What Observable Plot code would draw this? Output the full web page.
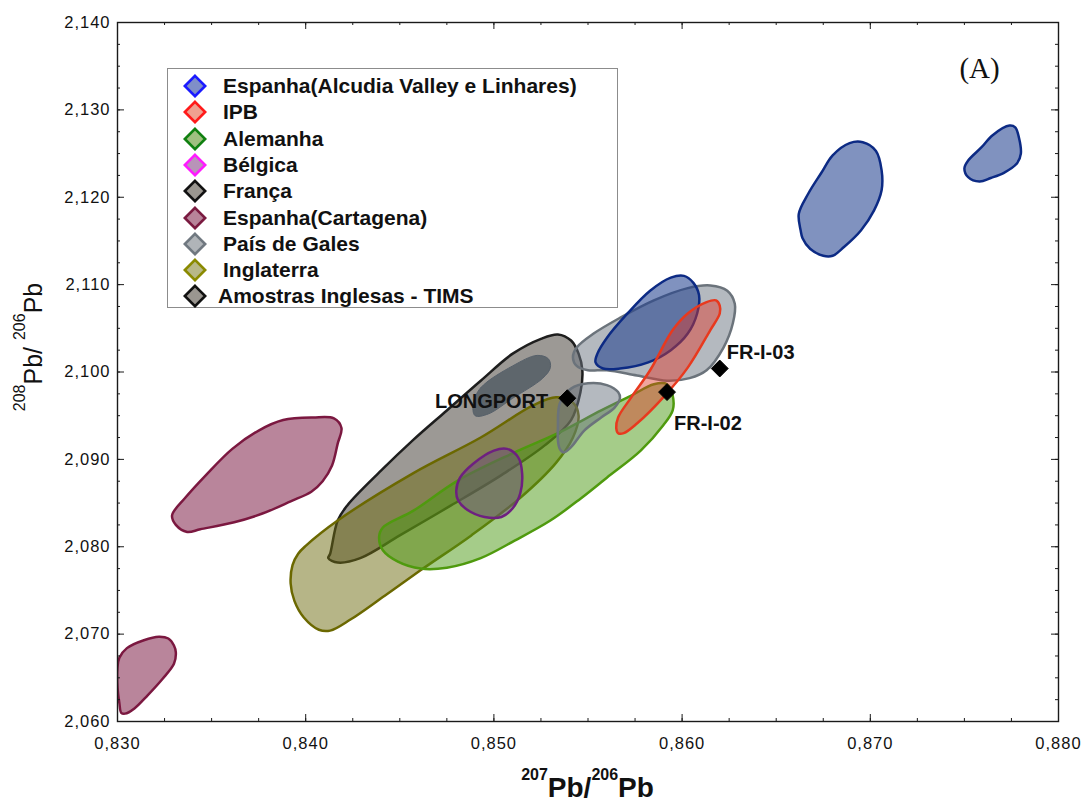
<!DOCTYPE html>
<html>
<head>
<meta charset="utf-8">
<script src="https://cdn.jsdelivr.net/npm/d3@7"></script>
<script src="https://cdn.jsdelivr.net/npm/@observablehq/plot@0.6"></script>
<style>
html,body{margin:0;padding:0;background:#fff;}
#wrap{position:relative;width:1089px;height:804px;overflow:hidden;font-family:"Liberation Sans",Arial,Helvetica,sans-serif;}
#wrap > svg{position:absolute;left:0;top:0;}
#legend{position:absolute;left:167px;top:68px;width:451px;height:240px;box-sizing:border-box;border:1px solid #8c8c8c;background:#fff;}
.lrow{position:absolute;left:0;width:440px;height:26px;}
.lrow svg{position:absolute;left:15px;top:1px;}
.lrow span{position:absolute;left:55px;top:0;font-weight:bold;font-size:21px;color:#111;line-height:26px;white-space:nowrap;}
g[aria-label$="tick label"] text{letter-spacing:1px;}
</style>
</head>
<body>
<div id="wrap"></div>
<script>
// ---------- data (207Pb/206Pb , 208Pb/206Pb) ----------
const xMajorTicks = [0.830, 0.840, 0.850, 0.860, 0.870, 0.880];
const yMajorTicks = [2.060, 2.070, 2.080, 2.090, 2.100, 2.110, 2.120, 2.130, 2.140];

const cartagenaLow = [[0.8300,2.0639],[0.8300,2.0662],[0.8301,2.0673],[0.8305,2.0684],[0.8314,2.0693],[0.8322,2.0697],[0.8327,2.0695],[0.8330,2.0687],[0.8331,2.0679],[0.8330,2.0666],[0.8324,2.0649],[0.8316,2.0630],[0.8309,2.0615],[0.8304,2.0609],[0.8302,2.0610],[0.8301,2.0621]];
const cartagenaHigh = [[0.8329,2.0836],[0.8331,2.0825],[0.8337,2.0817],[0.8344,2.0820],[0.8362,2.0828],[0.8377,2.0838],[0.8392,2.0852],[0.8403,2.0863],[0.8409,2.0875],[0.8414,2.0893],[0.8417,2.0918],[0.8419,2.0936],[0.8415,2.0947],[0.8404,2.0948],[0.8388,2.0945],[0.8375,2.0933],[0.8361,2.0912],[0.8347,2.0882],[0.8336,2.0856]];
const franca = [[0.8413,2.0792],[0.8417,2.0830],[0.8422,2.0847],[0.8440,2.0887],[0.8457,2.0922],[0.8475,2.0956],[0.8493,2.0990],[0.8510,2.1021],[0.8525,2.1038],[0.8534,2.1043],[0.8541,2.1036],[0.8545,2.1021],[0.8547,2.1002],[0.8546,2.0977],[0.8541,2.0945],[0.8527,2.0916],[0.8504,2.0882],[0.8477,2.0847],[0.8450,2.0813],[0.8429,2.0787],[0.8417,2.0782],[0.8412,2.0787]];
const galesInner = [[0.8489,2.0964],[0.8493,2.0982],[0.8510,2.1007],[0.8523,2.1019],[0.8529,2.1015],[0.8530,2.1005],[0.8526,2.0993],[0.8510,2.0970],[0.8497,2.0952],[0.8490,2.0950]];
const inglaterra = [[0.8396,2.0792],[0.8393,2.0779],[0.8392,2.0758],[0.8394,2.0738],[0.8399,2.0719],[0.8407,2.0705],[0.8413,2.0704],[0.8424,2.0717],[0.8442,2.0744],[0.8461,2.0773],[0.8488,2.0813],[0.8514,2.0856],[0.8533,2.0896],[0.8542,2.0925],[0.8545,2.0950],[0.8542,2.0965],[0.8533,2.0971],[0.8521,2.0962],[0.8493,2.0925],[0.8457,2.0884],[0.8417,2.0830],[0.8400,2.0801]];
const alemanha = [[0.8439,2.0811],[0.8441,2.0822],[0.8457,2.0841],[0.8481,2.0876],[0.8510,2.0907],[0.8534,2.0930],[0.8557,2.0956],[0.8573,2.0973],[0.8585,2.0986],[0.8592,2.0986],[0.8595,2.0973],[0.8595,2.0956],[0.8590,2.0939],[0.8578,2.0910],[0.8560,2.0879],[0.8546,2.0855],[0.8530,2.0830],[0.8511,2.0807],[0.8493,2.0787],[0.8475,2.0776],[0.8461,2.0775],[0.8449,2.0783],[0.8441,2.0796]];
const galesSmall = [[0.8534,2.0922],[0.8534,2.0936],[0.8535,2.0964],[0.8541,2.0981],[0.8550,2.0987],[0.8560,2.0985],[0.8566,2.0977],[0.8567,2.0970],[0.8564,2.0959],[0.8557,2.0948],[0.8548,2.0933],[0.8541,2.0914],[0.8537,2.0908],[0.8535,2.0912]];
const galesBig = [[0.8542,2.1017],[0.8544,2.1028],[0.8553,2.1044],[0.8567,2.1062],[0.8585,2.1082],[0.8603,2.1096],[0.8615,2.1099],[0.8624,2.1093],[0.8628,2.1078],[0.8627,2.1056],[0.8622,2.1028],[0.8613,2.1002],[0.8604,2.0993],[0.8592,2.0990],[0.8576,2.0996],[0.8560,2.1002],[0.8550,2.1002],[0.8544,2.1007]];
const belgica = [[0.8480,2.0864],[0.8482,2.0879],[0.8489,2.0895],[0.8500,2.0910],[0.8507,2.0912],[0.8513,2.0902],[0.8515,2.0884],[0.8514,2.0861],[0.8510,2.0844],[0.8504,2.0834],[0.8495,2.0834],[0.8486,2.0842],[0.8481,2.0853]];
const alcudiaMid = [[0.8554,2.1011],[0.8555,2.1021],[0.8560,2.1039],[0.8571,2.1067],[0.8583,2.1093],[0.8594,2.1108],[0.8601,2.1110],[0.8606,2.1102],[0.8609,2.1088],[0.8608,2.1067],[0.8603,2.1044],[0.8594,2.1025],[0.8582,2.1011],[0.8567,2.1004],[0.8558,2.1004]];
const alcudiaBig = [[0.8663,2.1162],[0.8662,2.1181],[0.8667,2.1204],[0.8674,2.1228],[0.8680,2.1248],[0.8689,2.1262],[0.8696,2.1263],[0.8703,2.1253],[0.8706,2.1231],[0.8706,2.1208],[0.8702,2.1185],[0.8695,2.1162],[0.8686,2.1143],[0.8680,2.1133],[0.8675,2.1133],[0.8668,2.1141],[0.8664,2.1153]];
const alcudiaSmall = [[0.8750,2.1233],[0.8752,2.1242],[0.8759,2.1257],[0.8765,2.1271],[0.8774,2.1282],[0.8777,2.1280],[0.8779,2.1268],[0.8780,2.1250],[0.8778,2.1239],[0.8771,2.1228],[0.8764,2.1222],[0.8758,2.1218],[0.8752,2.1223]];
const ipb = [[0.8565,2.0936],[0.8566,2.0948],[0.8573,2.0971],[0.8583,2.1002],[0.8595,2.1048],[0.8603,2.1067],[0.8613,2.1080],[0.8618,2.1082],[0.8620,2.1076],[0.8620,2.1067],[0.8615,2.1048],[0.8603,2.1005],[0.8590,2.0971],[0.8576,2.0941],[0.8569,2.0930],[0.8566,2.0930]];

const timsNames = ["LONGPORT", "FR-I-02", "FR-I-03"];
const timsX = [0.8539, 0.8592, 0.8620];
const timsY = [2.0970, 2.0977, 2.1004];

const legendNames = ["Espanha(Alcudia Valley e Linhares)", "IPB", "Alemanha", "Bélgica", "França",
  "Espanha(Cartagena)", "País de Gales", "Inglaterra", "Amostras Inglesas - TIMS"];

// ---------- styles ----------
const styleOf = {
  cartagena: {fill:"#8a3458", fillOpacity:0.6, stroke:"#7b1840"},
  franca:    {fill:"#4a463e", fillOpacity:0.55, stroke:"#1e1e1e"},
  galesIn:   {fill:"#47525d", fillOpacity:0.72, stroke:"#56606a", strokeWidth:1},
  inglaterra:{fill:"#6e6c10", fillOpacity:0.5, stroke:"#6b6800"},
  alemanha:  {fill:"#4c9a14", fillOpacity:0.5, stroke:"#4f9a0e"},
  gales:     {fill:"#6a7480", fillOpacity:0.5, stroke:"#6b737b"},
  belgica:   {fill:"#6a4a80", fillOpacity:0.45, stroke:"#6e2080"},
  alcudia:   {fill:"#20408f", fillOpacity:0.57, stroke:"#0c2a84"},
  ipb:       {fill:"#e03828", fillOpacity:0.45, stroke:"#e8391e"}
};
const regions = [
  ["cartagena", cartagenaLow], ["cartagena", cartagenaHigh],
  ["franca", franca], ["galesIn", galesInner], ["inglaterra", inglaterra],
  ["alemanha", alemanha], ["gales", galesSmall], ["gales", galesBig],
  ["belgica", belgica], ["alcudia", alcudiaMid], ["alcudia", alcudiaBig],
  ["alcudia", alcudiaSmall], ["ipb", ipb]
];
const legendStyles = [
  ["#1a1aff","#7f8fc8"],["#ff1a1a","#f0a090"],["#108010","#a0c080"],["#ff1aff","#b894b8"],
  ["#111111","#9a9690"],["#7a1a40","#b8849a"],["#707880","#b0b4b8"],["#8a8a00","#b8b888"],["#111111","#9a9690"]
];

const W = 1089, H = 804, ML = 117, MR = 31, MT = 22, MB = 83;
const innerW = W - ML - MR, innerH = H - MT - MB;
const fmt = d => d.toFixed(3).replace(".", ",");
const xMinor = d3.range(0.830, 0.88001, 0.0025);
const yMinor = d3.range(2.060, 2.14001, 0.0025);
const tims = timsNames.map((n, i) => ({name: n, x: timsX[i], y: timsY[i]}));
const tc = "#1a1a1a";

const regionMarks = regions.map(([key, pts]) => Plot.line(pts, {
  x: d => d[0], y: d => d[1], curve: "catmull-rom-closed", clip: true,
  strokeWidth: 2.5, strokeLinejoin: "round", ...styleOf[key]
}));

const lab = {fontFamily: "Liberation Sans, Arial, sans-serif", fontWeight: "bold", fontSize: 20, fill: "#111"};

const chart = Plot.plot({
  width: W, height: H, marginLeft: ML, marginRight: MR, marginTop: MT, marginBottom: MB,
  x: {domain: [0.830, 0.880]},
  y: {domain: [2.060, 2.140]},
  style: {fontFamily: "Liberation Sans, Arial, sans-serif", background: "white", color: "#111"},
  marks: [
    ...regionMarks,
    Plot.dot(tims, {x: "x", y: "y", symbol: "diamond2", r: 7.6, fill: "#000", stroke: "#000", strokeWidth: 1}),
    Plot.text(tims.filter(d => d.name === "LONGPORT"), {x: "x", y: "y", text: "name", textAnchor: "end", dx: -19, dy: 3, ...lab}),
    Plot.text(tims.filter(d => d.name === "FR-I-03"), {x: "x", y: "y", text: "name", textAnchor: "start", dx: 7, dy: -16, ...lab}),
    Plot.text(tims.filter(d => d.name === "FR-I-02"), {x: "x", y: "y", text: "name", textAnchor: "start", dx: 7, dy: 31, ...lab}),
    Plot.text(["(A)"], {text: d => d, frameAnchor: "top-right", dx: -79, dy: 46, textAnchor: "middle", lineAnchor: "middle",
      fontFamily: "Liberation Serif, Times New Roman, serif", fontSize: 29, fill: "#111"}),
    // inward ticks on all four sides
    Plot.ruleX(xMinor, {x: d => d, insetTop: innerH - 3, stroke: tc}),
    Plot.ruleX(xMajorTicks, {x: d => d, insetTop: innerH - 7, stroke: tc}),
    Plot.ruleX(xMinor, {x: d => d, insetBottom: innerH - 3, stroke: tc}),
    Plot.ruleX(xMajorTicks, {x: d => d, insetBottom: innerH - 7, stroke: tc}),
    Plot.ruleY(yMinor, {y: d => d, insetRight: innerW - 3, stroke: tc}),
    Plot.ruleY(yMajorTicks, {y: d => d, insetRight: innerW - 7, stroke: tc}),
    Plot.ruleY(yMinor, {y: d => d, insetLeft: innerW - 3, stroke: tc}),
    Plot.ruleY(yMajorTicks, {y: d => d, insetLeft: innerW - 7, stroke: tc}),
    Plot.frame({stroke: tc, strokeWidth: 1.4}),
    Plot.axisX({ticks: xMajorTicks, anchor: "bottom", tickSize: 0, tickPadding: 16, tickFormat: fmt, fontSize: 16.5, label: null}),
    Plot.axisY({ticks: yMajorTicks, anchor: "left", tickSize: 0, tickPadding: 7, tickFormat: fmt, fontSize: 16.5, label: null})
  ]
});

const wrap = document.getElementById("wrap");
wrap.appendChild(chart);

// axis titles with superscripts
const svg = d3.select(chart);
const xt = svg.append("text").attr("x", ML + innerW / 2).attr("y", 797)
  .attr("text-anchor", "middle").attr("font-weight", "bold").attr("font-size", 28).attr("fill", "#111")
  .attr("font-family", "Liberation Sans, Arial, sans-serif");
xt.append("tspan").attr("font-size", 16).attr("dy", -17).text("207");
xt.append("tspan").attr("dy", 17).text("Pb/");
xt.append("tspan").attr("font-size", 16).attr("dy", -17).text("206");
xt.append("tspan").attr("dy", 17).text("Pb");

const yt = svg.append("text").attr("transform", "translate(42,347) rotate(-90)")
  .attr("text-anchor", "middle").attr("font-size", 25).attr("fill", "#111")
  .attr("font-family", "Liberation Sans, Arial, sans-serif");
yt.append("tspan").attr("font-size", 16).attr("dy", -17).text("208");
yt.append("tspan").attr("dy", 17).text("Pb/ ");
yt.append("tspan").attr("font-size", 16).attr("dy", -17).text("206");
yt.append("tspan").attr("dy", 17).text("Pb");

// legend box
const legend = document.createElement("div");
legend.id = "legend";
legendNames.forEach((name, i) => {
  const row = document.createElement("div");
  row.className = "lrow";
  row.style.top = (4 + i * 26.3) + "px";
  const [s, f] = legendStyles[i];
  row.innerHTML = `<svg width="24" height="24" viewBox="0 0 24 24"><path d="M12 1.8 L22.2 12 L12 22.2 L1.8 12 Z" fill="${f}" stroke="${s}" stroke-width="2.6" stroke-linejoin="miter"/></svg><span style="left:${i === 8 ? 50 : 55}px">${name}</span>`;
  legend.appendChild(row);
});
wrap.appendChild(legend);
</script>
</body>
</html>
